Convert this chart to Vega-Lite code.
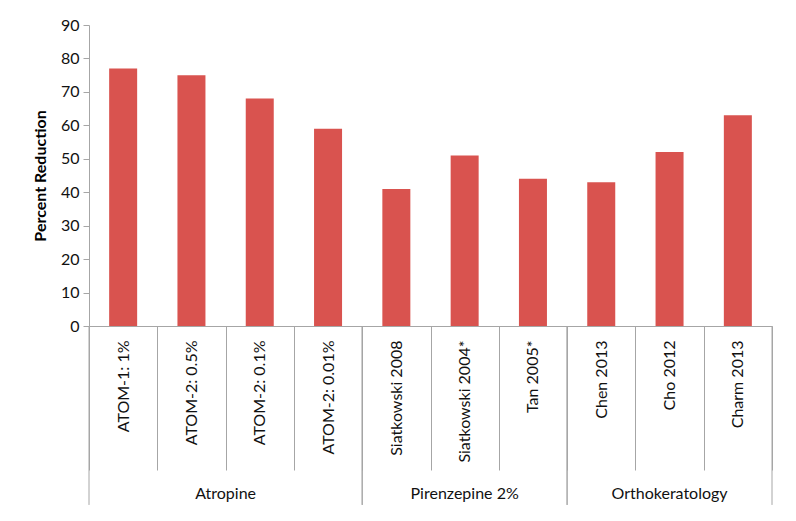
{
  "$schema": "https://vega.github.io/schema/vega-lite/v6.json",
  "width": 683,
  "height": 301,
  "autosize": {"type": "none"},
  "padding": {"left": 89, "top": 25, "right": 24, "bottom": 195},
  "background": "white",
  "config": {
    "view": {"stroke": null},
    "font": "Lato",
    "axisY": {
      "titleFontSize": 16,
      "titleFontWeight": "bold",
      "titleColor": "#000000",
      "titleFont": "Lato",
      "titlePadding": 12,
      "labelOverlap": false,
      "grid": false,
      "domainColor": "#a6a6a6",
      "tickColor": "#a6a6a6",
      "tickSize": 6,
      "labelPadding": 4,
      "labelFontSize": 16,
      "labelColor": "#111111",
      "labelFont": "Lato"
    }
  },
  "datasets": {
    "studies": [
      {"study": "ATOM-1: 1%", "group": "Atropine", "reduction": 77},
      {"study": "ATOM-2: 0.5%", "group": "Atropine", "reduction": 75},
      {"study": "ATOM-2: 0.1%", "group": "Atropine", "reduction": 68},
      {"study": "ATOM-2: 0.01%", "group": "Atropine", "reduction": 59},
      {"study": "Siatkowski  2008", "group": "Pirenzepine 2%", "reduction": 41},
      {"study": "Siatkowski  2004*", "group": "Pirenzepine 2%", "reduction": 51},
      {"study": "Tan 2005*", "group": "Pirenzepine 2%", "reduction": 44},
      {"study": "Chen 2013", "group": "Orthokeratology", "reduction": 43},
      {"study": "Cho 2012", "group": "Orthokeratology", "reduction": 52},
      {"study": "Charm 2013", "group": "Orthokeratology", "reduction": 63}
    ],
    "groups": [
      {"group": "Atropine", "first": "ATOM-1: 1%", "last": "ATOM-2: 0.01%", "mid": "ATOM-2: 0.1%", "even": true},
      {"group": "Pirenzepine 2%", "first": "Siatkowski  2008", "last": "Tan 2005*", "mid": "Siatkowski  2004*", "even": false},
      {"group": "Orthokeratology", "first": "Chen 2013", "last": "Charm 2013", "mid": "Cho 2012", "even": false}
    ]
  },
  "layer": [
    {
      "data": {"name": "studies"},
      "mark": {"type": "bar", "width": {"band": 0.41}, "color": "#D9534F"},
      "encoding": {
        "x": {
          "field": "study",
          "type": "nominal",
          "scale": {
            "domain": ["ATOM-1: 1%", "ATOM-2: 0.5%", "ATOM-2: 0.1%", "ATOM-2: 0.01%", "Siatkowski  2008", "Siatkowski  2004*", "Tan 2005*", "Chen 2013", "Cho 2012", "Charm 2013"],
            "paddingInner": 0,
            "paddingOuter": 0
          },
          "axis": {
            "title": null,
            "labelAngle": -90,
            "tickBand": "extent",
            "tickSize": 144,
            "labelPadding": -130,
            "domainColor": "#a6a6a6",
            "tickColor": "#a6a6a6",
            "labelFontSize": 16,
            "labelColor": "#111111",
            "labelFont": "Lato"
          }
        },
        "y": {
          "field": "reduction",
          "type": "quantitative",
          "scale": {"domain": [0, 90]},
          "axis": {"title": "Percent Reduction", "values": [0, 10, 20, 30, 40, 50, 60, 70, 80, 90], "tickCount": 10}
        }
      }
    },
    {
      "data": {"name": "groups"},
      "mark": {"type": "rule", "color": "#a6a6a6", "strokeWidth": 1},
      "encoding": {
        "x": {"field": "first", "type": "nominal", "bandPosition": 0},
        "y": {"datum": 0, "axis": {"title": "Percent Reduction", "values": [0, 10, 20, 30, 40, 50, 60, 70, 80, 90], "tickCount": 10}},
        "y2": {"datum": -53.5}
      }
    },
    {
      "data": {"name": "groups"},
      "mark": {"type": "rule", "color": "#a6a6a6", "strokeWidth": 1},
      "encoding": {
        "x": {"field": "last", "type": "nominal", "bandPosition": 1},
        "y": {"datum": 0, "axis": {"title": "Percent Reduction", "values": [0, 10, 20, 30, 40, 50, 60, 70, 80, 90], "tickCount": 10}},
        "y2": {"datum": -53.5}
      }
    },
    {
      "data": {"name": "groups"},
      "transform": [{"filter": "datum.even"}],
      "mark": {"type": "text", "fontSize": 16, "color": "#111111", "font": "Lato", "baseline": "middle", "align": "center"},
      "encoding": {
        "x": {"field": "mid", "type": "nominal", "bandPosition": 0},
        "y": {"datum": -50.2, "axis": {"title": "Percent Reduction", "values": [0, 10, 20, 30, 40, 50, 60, 70, 80, 90], "tickCount": 10}},
        "text": {"field": "group"}
      }
    },
    {
      "data": {"name": "groups"},
      "transform": [{"filter": "!datum.even"}],
      "mark": {"type": "text", "fontSize": 16, "color": "#111111", "font": "Lato", "baseline": "middle", "align": "center"},
      "encoding": {
        "x": {"field": "mid", "type": "nominal", "bandPosition": 0.5},
        "y": {"datum": -50.2, "axis": {"title": "Percent Reduction", "values": [0, 10, 20, 30, 40, 50, 60, 70, 80, 90], "tickCount": 10}},
        "text": {"field": "group"}
      }
    }
  ]
}
